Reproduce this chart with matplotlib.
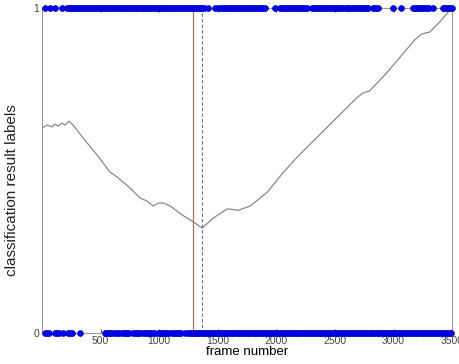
import numpy as np
import matplotlib
matplotlib.use("Agg")
from matplotlib import pyplot as plt

plt.rcParams['font.family'] = ['Liberation Sans', 'DejaVu Sans']

# smoothed score curve, (frame, value)
curve_frames = [0, 43, 86, 111, 137, 171, 197, 231, 265, 351, 470, 581, 641, 752,
                838, 898, 949, 992, 1035, 1094, 1197, 1291, 1368, 1462, 1582, 1676,
                1778, 1924, 2061, 2180, 2514, 2685, 2736, 2796, 2941, 3181, 3240,
                3309, 3394, 3497]
curve_values = [0.631, 0.640, 0.634, 0.643, 0.637, 0.646, 0.640, 0.652, 0.640, 0.600,
                0.548, 0.495, 0.480, 0.446, 0.415, 0.406, 0.391, 0.400, 0.400, 0.391,
                0.363, 0.342, 0.323, 0.354, 0.382, 0.378, 0.391, 0.434, 0.495, 0.542,
                0.662, 0.723, 0.738, 0.745, 0.800, 0.902, 0.920, 0.926, 0.957, 1.0]

# frames labelled 1, as runs (first, last)
label1_runs = [(26, 26), (68, 68), (111, 111), (171, 171), (214, 1394), (1419, 1419),
               (1479, 1479), (1505, 1736), (1753, 1907), (1992, 1992), (2035, 2274),
               (2300, 2420), (2445, 2565), (2591, 2787), (2822, 2873), (2993, 2993),
               (3061, 3061), (3164, 3300), (3335, 3335), (3420, 3500)]
# frames labelled 0, as runs (first, last)
label0_runs = [(26, 68), (111, 154), (180, 180), (222, 256), (325, 325), (539, 599),
               (624, 667), (684, 752), (778, 838), (864, 966), (992, 1094),
               (1112, 1197), (1223, 1223), (1248, 1325), (1334, 3500)]

change_true = 1291
change_detected = 1368


def expand(runs):
    out = []
    for a, b in runs:
        out.extend(range(a, b + 1, 15))
    return np.array(out)


ones = expand(label1_runs)
zeros = expand(label0_runs)

fig = plt.figure(figsize=(4.59, 3.64), dpi=100)
ax = fig.add_axes([0.0915, 0.085, 0.8935, 0.893])

ax.plot(curve_frames, curve_values, color='#888888', lw=0.9)
ax.axvline(change_true, color='#b07070', lw=0.9)
ax.axvline(change_detected, color='#707070', lw=0.8, ls=(0, (3, 2)))
ax.plot(ones, np.ones(len(ones)), 'o', color='#0000ff', ms=4.2, mec='#0000bb',
        mew=0.5, clip_on=False, zorder=5)
ax.plot(zeros, np.zeros(len(zeros)), 'o', color='#0000ff', ms=4.2, mec='#0000bb',
        mew=0.5, clip_on=False, zorder=5)

ax.set_xlim(0, 3500)
ax.set_ylim(0, 1)
ax.set_xticks([500, 1000, 1500, 2000, 2500, 3000, 3500])
ax.set_yticks([0, 1])
ax.tick_params(direction='in', length=3, labelsize=7.5, colors='#444444',
               top=True, right=True, pad=2)
for s in ax.spines.values():
    s.set_color('#999999')
    s.set_linewidth(0.8)
ax.set_xlabel('frame number', fontsize=9.5, labelpad=0)
ax.set_ylabel('classification result labels', fontsize=11, color='#222222')
ax.yaxis.set_label_coords(-0.055, 0.44)

fig.savefig('out.png', dpi=100)
